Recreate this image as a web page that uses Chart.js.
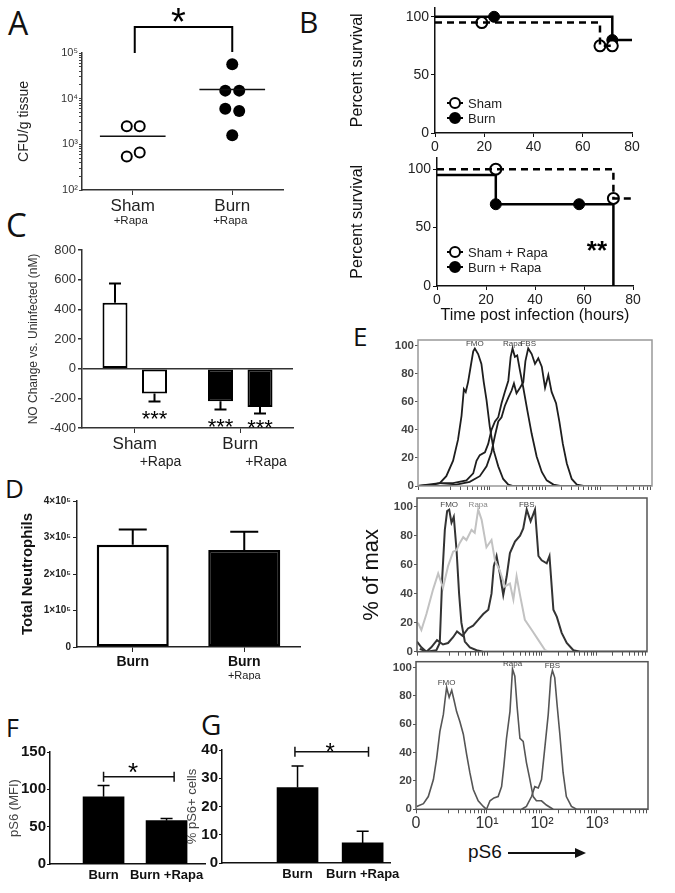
<!DOCTYPE html>
<html>
<head>
<meta charset="utf-8">
<title>Figure</title>
<script src="https://cdn.jsdelivr.net/npm/chart.js@4.4.1/dist/chart.umd.min.js"></script>
<style>
  body { margin: 0; background: #fff; }
  #fig { position: relative; width: 675px; height: 893px; overflow: hidden; background: #fff; font-family: 'Liberation Sans', Arial, sans-serif; color: #111; }
  .box { position: absolute; }
  .letter { position: absolute; font-family: 'Open Sans', sans-serif; line-height: 1; color: #111; }
  #ps6 { position: absolute; left: 468px; top: 841px; font-size: 19px; line-height: 22px; color: #111; white-space: nowrap; }
  #ps6 .arrow { display: inline-block; position: relative; width: 68px; height: 0; border-top: 2.5px solid #111; vertical-align: middle; margin-left: 6px; }
  #ps6 .arrow::after { content: ''; position: absolute; right: -10px; top: -6.25px; border-left: 11px solid #111; border-top: 5px solid transparent; border-bottom: 5px solid transparent; }
</style>
</head>
<body>
<div id="fig">
  <div class="letter" style="left:8px;top:7px;font-size:32px">A</div>
  <div class="letter" style="left:299px;top:7px;font-size:30px">B</div>
  <div class="letter" style="left:6px;top:208px;font-size:33px">C</div>
  <div class="letter" style="left:5px;top:475px;font-size:26px">D</div>
  <div class="letter" style="left:353px;top:323px;font-size:26px">E</div>
  <div class="letter" style="left:6px;top:715px;font-size:25px">F</div>
  <div class="letter" style="left:201px;top:710px;font-size:28px">G</div>
  <div id="ps6">pS6<span class="arrow"></span></div>
</div>
<script>
// ---- A: CFU per gram tissue (log scale) ----
const aGroups = ['Sham', 'Burn'];
const aGroupSub = ['+Rapa', '+Rapa'];
const aShamCFU = [2500, 2500, 540, 660];
const aShamJit = [-0.06, 0.07, -0.06, 0.07];
const aBurnCFU = [57000, 15000, 15000, 6000, 5400, 1580];
const aBurnJit = [0, -0.07, 0.07, -0.07, 0.07, 0];
const aShamMean = 1500;
const aBurnMean = 15800;

// ---- B: survival curves (hours, percent) ----
const bShamT = [0, 67, 72], bShamS = [95, 75, 75];
const bShamCensT = [19, 67, 72], bShamCensS = [95, 75, 75];
const bBurnT = [0, 72, 80], bBurnS = [100, 80, 80];
const bBurnCensT = [24, 72], bBurnCensS = [100, 80];
const bShamRapaT = [0, 72, 80], bShamRapaS = [100, 75, 75];
const bShamRapaCensT = [24, 72], bShamRapaCensS = [100, 75];
const bBurnRapaT = [0, 24, 72], bBurnRapaS = [95, 70, 0];
const bBurnRapaCensT = [24, 58], bBurnRapaCensS = [70, 70];

// ---- C: NO change vs uninfected (nM) ----
const cGroups = ['Sham', 'Burn'];
const cNoRapa = [445, -220];
const cNoRapaErr = [130, 55];
const cRapa = [-168, -258];
const cRapaErr = [54, 44];

// ---- D: total neutrophils ----
const dLabels = ['Burn', 'Burn'];
const dSub = ['', '+Rapa'];
const dNeut = [280000, 266000];
const dErr = [42000, 50000];

// ---- F / G: pS6 ----
const fLabels = ['Burn', 'Burn +Rapa'];
const fMFI = [90, 58];
const fErr = [15, 3];
const gLabels = ['Burn', 'Burn +Rapa'];
const gPct = [26.7, 7.1];
const gErr = [7.6, 4.1];

// ---- E: pS6 histograms, [channel, % of max] ----
const decadeCh = [0, 306, 543, 780];
const decadeLabels = ['0', '10¹', '10²', '10³'];
const h1FMO = [[0,0],[64,1],[93,2],[121,7],[150,18],[171,33],[186,50],[196,69],[204,67],[214,74],[226,86],[236,96],[243,98],[257,94],[271,87],[281,74],[293,61],[307,42],[324,25],[343,14],[364,5],[386,1],[407,0],[1000,0]];
const h1Rapa = [[0,0],[93,2],[150,2],[207,4],[236,9],[250,18],[264,22],[286,24],[300,30],[314,40],[329,46],[343,49],[357,59],[371,67],[386,75],[396,92],[404,98],[414,92],[424,93],[436,82],[450,70],[467,54],[486,37],[507,21],[529,10],[550,4],[579,1],[607,0],[1000,0]];
const h1FBS = [[0,0],[93,0],[164,1],[221,3],[264,7],[293,14],[314,24],[329,36],[343,46],[357,49],[371,57],[386,63],[400,68],[410,73],[421,66],[436,70],[450,74],[459,89],[471,98],[486,94],[500,87],[514,91],[529,85],[543,70],[557,79],[571,67],[590,59],[604,46],[619,30],[636,16],[657,5],[679,1],[707,0],[1000,0]];
const h2FMO = [[12,2],[41,0],[84,1],[99,6],[110,52],[121,84],[131,97],[140,98],[150,89],[160,93],[172,70],[183,40],[193,20],[208,7],[230,3],[259,1],[288,0],[1000,0]];
const h2Rapa = [[4,20],[19,15],[41,26],[70,43],[92,54],[113,44],[135,59],[157,69],[172,70],[186,75],[201,79],[215,77],[237,84],[251,82],[266,98],[281,91],[302,72],[324,77],[339,63],[360,56],[382,45],[404,47],[419,36],[433,52],[448,39],[469,22],[499,15],[528,8],[557,1],[571,0]];
const h2FBS = [[0,7],[19,3],[41,0],[62,3],[87,8],[113,5],[135,6],[157,10],[174,14],[198,11],[222,16],[244,18],[266,22],[288,26],[310,29],[324,40],[334,59],[346,66],[360,54],[375,39],[390,52],[404,68],[426,76],[448,80],[462,85],[477,98],[494,90],[513,98],[528,66],[542,63],[564,61],[576,66],[593,29],[608,24],[629,13],[651,6],[680,1],[709,0],[1000,0]];
const h3FMO = [[3,2],[32,4],[53,9],[75,21],[89,36],[103,55],[118,67],[125,77],[132,86],[143,79],[154,84],[164,77],[175,69],[189,62],[204,53],[218,39],[232,26],[247,14],[268,6],[290,2],[304,0]];
const h3Rapa = [[304,0],[319,6],[336,8],[354,9],[369,16],[379,31],[390,50],[405,69],[416,99],[426,94],[436,72],[448,50],[462,48],[476,33],[491,21],[505,9],[519,6],[541,6],[562,3],[591,0]];
const h3FBS = [[455,0],[476,2],[498,9],[512,16],[527,15],[541,21],[555,43],[570,67],[581,93],[588,98],[598,93],[608,74],[620,53],[634,26],[648,9],[670,2],[692,0],[1000,0]];

const FONT = "'Liberation Sans', Arial, sans-serif";
Chart.defaults.font.family = FONT;
Chart.defaults.color = '#222';
Chart.defaults.animation = false;
Chart.defaults.plugins.legend.display = false;
Chart.defaults.plugins.tooltip.enabled = false;

const fig = document.getElementById('fig');

function makeChart(left, top, w, h, config) {
  const div = document.createElement('div');
  div.className = 'box';
  div.style.cssText = `left:${left}px;top:${top}px;width:${w}px;height:${h}px`;
  const cv = document.createElement('canvas');
  div.appendChild(cv);
  fig.appendChild(div);
  config.options = Object.assign({ responsive: true, maintainAspectRatio: false }, config.options);
  return new Chart(cv, config);
}

// fixed axis sizes so the plot areas land where the figure has them
const fixW = w => s => { s.width = w; s.paddingTop = 0; s.paddingBottom = 0; };
const fixH = h => s => { s.height = h; s.paddingLeft = 0; s.paddingRight = 0; };

function pts(xs, ys) { return xs.map((x, i) => ({ x: x, y: ys[i] })); }
function pairs(arr) { return arr.map(p => ({ x: p[0], y: p[1] })); }

function star(ctx, text, x, cy, size, bold) {
  ctx.save();
  ctx.font = `${bold ? 'bold ' : ''}${size}px ${FONT}`;
  ctx.fillStyle = '#000';
  ctx.textAlign = 'center';
  ctx.textBaseline = 'alphabetic';
  ctx.fillText(text, x, cy + 0.57 * size);
  ctx.restore();
}

// error bars from dataset.errors, drawn away from zero
const errorBars = {
  id: 'errorBars',
  afterDatasetsDraw(chart) {
    const ctx = chart.ctx, ys = chart.scales.y;
    chart.data.datasets.forEach((ds, i) => {
      if (!ds.errors) return;
      chart.getDatasetMeta(i).data.forEach((bar, j) => {
        const raw = ds.data[j];
        const v = typeof raw === 'object' ? raw.y : raw;
        const e = ds.errors[j];
        const p0 = ys.getPixelForValue(v);
        const p1 = ys.getPixelForValue(v < 0 ? v - e : v + e);
        const cw = ds.capWidth || 12;
        ctx.save();
        ctx.strokeStyle = '#000';
        ctx.lineWidth = ds.errorWidth || 2;
        ctx.beginPath();
        ctx.moveTo(bar.x, p0);
        ctx.lineTo(bar.x, p1);
        ctx.moveTo(bar.x - cw / 2, p1);
        ctx.lineTo(bar.x + cw / 2, p1);
        ctx.stroke();
        ctx.restore();
      });
    });
  }
};
Chart.register(errorBars);

function subLabels(id, texts, size, dy, dx) {
  return {
    id: id,
    afterDraw(c) {
      const ctx = c.ctx, xs = c.scales.x;
      ctx.save();
      ctx.font = `${size}px ${FONT}`;
      ctx.fillStyle = '#222';
      ctx.textAlign = 'center';
      ctx.textBaseline = 'middle';
      texts.forEach((t, i) => { if (t) ctx.fillText(t, xs.getPixelForValue(i) + (dx || 0), c.chartArea.bottom + dy); });
      ctx.restore();
    }
  };
}

function survLegend(items, dx, dy) {
  return {
    id: 'survLegend',
    afterDraw(c) {
      const ctx = c.ctx;
      const x = c.chartArea.left + dx;
      items.forEach((it, k) => {
        const y = c.chartArea.bottom - dy + k * 15;
        ctx.save();
        ctx.strokeStyle = '#000';
        ctx.lineWidth = 2;
        ctx.beginPath(); ctx.moveTo(x - 8, y); ctx.lineTo(x + 8, y); ctx.stroke();
        ctx.beginPath(); ctx.arc(x, y, 5, 0, Math.PI * 2);
        ctx.fillStyle = it.filled ? '#000' : '#fff';
        ctx.fill(); ctx.stroke();
        ctx.font = `13px ${FONT}`;
        ctx.fillStyle = '#222';
        ctx.textBaseline = 'middle';
        ctx.fillText(it.text, x + 13, y + 1);
        ctx.restore();
      });
    }
  };
}

function sigLine(o) {
  return {
    id: 'sigLine',
    afterDraw(c) {
      const ctx = c.ctx, xs = c.scales.x, ys = c.scales.y;
      const x0 = xs.getPixelForValue(o.from), x1 = xs.getPixelForValue(o.to), y = ys.getPixelForValue(o.y);
      ctx.save();
      ctx.strokeStyle = '#111';
      ctx.lineWidth = 1.5;
      ctx.beginPath();
      ctx.moveTo(x0, y); ctx.lineTo(x1, y);
      ctx.moveTo(x0, y - 5); ctx.lineTo(x0, y + 5);
      ctx.moveTo(x1, y - 5); ctx.lineTo(x1, y + 5);
      ctx.stroke();
      ctx.restore();
      star(ctx, '*', xs.getPixelForValue(o.starAt), y - o.starGap, o.starSize, false);
    }
  };
}

function survScales(ymax, xh, yw, xTitle) {
  return {
    x: {
      type: 'linear', min: 0, max: 80, afterFit: fixH(xh),
      ticks: { stepSize: 20, font: { size: 14 }, color: '#222', padding: 2, maxRotation: 0 },
      grid: { drawOnChartArea: false, tickLength: 4, color: '#111' },
      border: { color: '#111', width: 1.5 },
      title: xTitle ? { display: true, text: xTitle, font: { size: 16 }, color: '#111', padding: { bottom: 5 } } : { display: false }
    },
    y: {
      min: 0, max: ymax, afterFit: fixW(yw),
      ticks: { stepSize: 50, includeBounds: false, font: { size: 14 }, color: '#222', padding: 2 },
      grid: { drawOnChartArea: false, tickLength: 4, color: '#111' },
      border: { color: '#111', width: 1.5 },
      title: { display: true, text: 'Percent survival', font: { size: 16 }, color: '#111', padding: { top: 8 } }
    }
  };
}

// ---------- A ----------
const aMeanHalf = 0.33;
makeChart(0, 0, 290, 230, {
  type: 'scatter',
  data: {
    datasets: [
      { type: 'line', data: pts([-aMeanHalf, aMeanHalf], [aShamMean, aShamMean]), borderColor: '#111', borderWidth: 1.5, pointRadius: 0 },
      { type: 'line', data: pts([1 - aMeanHalf, 1 + aMeanHalf], [aBurnMean, aBurnMean]), borderColor: '#111', borderWidth: 1.5, pointRadius: 0 },
      { data: aShamCFU.map((v, i) => ({ x: aShamJit[i], y: v })), pointRadius: 5, pointBorderWidth: 2, pointBackgroundColor: '#fff', pointBorderColor: '#000' },
      { data: aBurnCFU.map((v, i) => ({ x: 1 + aBurnJit[i], y: v })), pointRadius: 6, pointBorderWidth: 0, pointBackgroundColor: '#000', pointBorderColor: '#000' }
    ]
  },
  options: {
    layout: { padding: { top: 53, right: 6 } },
    scales: {
      x: {
        type: 'linear', min: -0.51, max: 1.51, afterFit: fixH(40),
        afterBuildTicks: s => { s.ticks = aGroups.map((g, i) => ({ value: i })); },
        ticks: { autoSkip: false, maxRotation: 0, font: { size: 17 }, color: '#222', padding: 1, callback: v => aGroups[v] || '' },
        grid: { drawOnChartArea: false, tickLength: 5, color: '#333' },
        border: { color: '#333', width: 1.5 }
      },
      y: {
        type: 'logarithmic', min: 100, max: 100000, afterFit: fixW(82),
        afterBuildTicks: s => {
          const t = [];
          for (let e = 2; e <= 5; e++) {
            for (let k = 1; k <= 9; k++) {
              const v = k * Math.pow(10, e);
              if (v <= 100000) t.push({ value: v });
            }
          }
          s.ticks = t;
        },
        ticks: {
          autoSkip: false, font: { size: 11 }, color: '#333', padding: 1,
          callback: v => {
            const e = Math.log10(v);
            const sup = { 2: '²', 3: '³', 4: '⁴', 5: '⁵' };
            return Math.abs(e - Math.round(e)) < 1e-9 ? '10' + sup[Math.round(e)] : '';
          }
        },
        grid: { drawOnChartArea: false, tickLength: 3, color: '#444' },
        border: { color: '#333', width: 1.5 },
        title: { display: true, text: 'CFU/g tissue', font: { size: 14 }, color: '#222', padding: { top: 16 } }
      }
    }
  },
  plugins: [
    subLabels('aSub', aGroupSub, 11.5, 31, -2),
    {
      id: 'aBracket',
      afterDraw(c) {
        const ctx = c.ctx, xs = c.scales.x, top = c.chartArea.top;
        const x0 = xs.getPixelForValue(0) + 2, x1 = xs.getPixelForValue(1);
        ctx.save();
        ctx.strokeStyle = '#000';
        ctx.lineWidth = 2;
        ctx.beginPath();
        ctx.moveTo(x0, top); ctx.lineTo(x0, top - 26); ctx.lineTo(x1, top - 26); ctx.lineTo(x1, top - 1);
        ctx.stroke();
        ctx.restore();
        star(ctx, '*', (x0 + x1) / 2 - 5, 13, 38, false);
      }
    }
  ]
});

// ---------- B top ----------
makeChart(340, 0, 304, 160, {
  type: 'line',
  data: {
    datasets: [
      { data: pts(bShamT, bShamS), stepped: true, borderColor: '#000', borderWidth: 2.5, borderDash: [7, 5], pointRadius: 0 },
      { data: pts(bBurnT, bBurnS), stepped: true, borderColor: '#000', borderWidth: 2.5, pointRadius: 0 },
      { data: pts(bShamCensT, bShamCensS), showLine: false, pointRadius: 5.5, pointBorderWidth: 2, pointBackgroundColor: '#fff', pointBorderColor: '#000' },
      { data: pts(bBurnCensT, bBurnCensS), showLine: false, pointRadius: 5.5, pointBorderWidth: 1, pointBackgroundColor: '#000', pointBorderColor: '#000' }
    ]
  },
  options: {
    layout: { padding: { top: 4.5, right: 12 } },
    scales: survScales(108, 27, 95, null)
  },
  plugins: [survLegend([{ text: 'Sham', filled: false }, { text: 'Burn', filled: true }], 20, 30)]
});

// ---------- B bottom ----------
makeChart(340, 150, 305, 180, {
  type: 'line',
  data: {
    datasets: [
      { data: pts(bShamRapaT, bShamRapaS), stepped: true, borderColor: '#000', borderWidth: 2.5, borderDash: [7, 5], pointRadius: 0 },
      { data: pts(bBurnRapaT, bBurnRapaS), stepped: true, borderColor: '#000', borderWidth: 2.5, pointRadius: 0 },
      { data: pts(bShamRapaCensT, bShamRapaCensS), showLine: false, pointRadius: 5.5, pointBorderWidth: 2, pointBackgroundColor: '#fff', pointBorderColor: '#000' },
      { data: pts(bBurnRapaCensT, bBurnRapaCensS), showLine: false, pointRadius: 5.5, pointBorderWidth: 1, pointBackgroundColor: '#000', pointBorderColor: '#000' }
    ]
  },
  options: {
    layout: { padding: { top: 5, right: 12 } },
    scales: survScales(110, 44, 97, 'Time post infection (hours)')
  },
  plugins: [
    survLegend([{ text: 'Sham + Rapa', filled: false }, { text: 'Burn + Rapa', filled: true }], 18, 34),
    { id: 'bStars', afterDraw(c) { star(c.ctx, '**', c.scales.x.getPixelForValue(65.3), c.scales.y.getPixelForValue(36), 26, true); } }
  ]
});

// ---------- C ----------
makeChart(0, 235, 300, 240, {
  type: 'bar',
  data: {
    labels: cGroups,
    datasets: [
      { data: cNoRapa, errors: cNoRapaErr, capWidth: 12, backgroundColor: ['#fff', '#000'], borderColor: '#000', borderWidth: 2, borderSkipped: false, categoryPercentage: 0.749, barPercentage: 0.633 },
      { data: cRapa, errors: cRapaErr, capWidth: 12, backgroundColor: ['#fff', '#000'], borderColor: '#000', borderWidth: 2, borderSkipped: false, categoryPercentage: 0.749, barPercentage: 0.633 }
    ]
  },
  options: {
    layout: { padding: { top: 15, right: 7 } },
    scales: {
      x: {
        afterFit: fixH(47),
        ticks: { font: { size: 17 }, color: '#222', padding: 1, maxRotation: 0 },
        grid: { drawOnChartArea: false, offset: false, tickLength: 5, color: '#333' },
        border: { color: '#333', width: 1.5 }
      },
      y: {
        min: -400, max: 800, afterFit: fixW(82),
        ticks: { stepSize: 200, font: { size: 13 }, color: '#333', padding: 2 },
        grid: { color: ctx => ctx.tick && ctx.tick.value === 0 ? '#333' : 'rgba(0,0,0,0)', lineWidth: 1.5, tickColor: '#333', tickLength: 4 },
        border: { color: '#333', width: 1.5 },
        title: { display: true, text: 'NO Change vs. Uninfected (nM)', font: { size: 12 }, color: '#333', padding: { top: 26 } }
      }
    }
  },
  plugins: [{
    id: 'cExtras',
    afterDraw(c) {
      const ctx = c.ctx, ys = c.scales.y, bottom = c.chartArea.bottom;
      c.data.datasets.forEach((ds, i) => {
        c.getDatasetMeta(i).data.forEach((bar, j) => {
          const v = ds.data[j];
          if (v < 0) {
            const end = ys.getPixelForValue(v - ds.errors[j]);
            star(ctx, '***', bar.x, Math.min(end + 12, bottom - 6), 22, false);
          }
          if (i === 1) {
            ctx.save();
            ctx.font = `14px ${FONT}`;
            ctx.fillStyle = '#222';
            ctx.textAlign = 'center';
            ctx.textBaseline = 'middle';
            ctx.fillText('+Rapa', bar.x + 6, bottom + 34);
            ctx.restore();
          }
        });
      });
    }
  }]
});

// ---------- D ----------
makeChart(0, 480, 305, 200, {
  type: 'bar',
  data: {
    labels: dLabels,
    datasets: [
      { data: dNeut, errors: dErr, capWidth: 28, backgroundColor: ['#fff', '#000'], borderColor: '#000', borderWidth: 2.5, borderSkipped: false, categoryPercentage: 1, barPercentage: 0.646 }
    ]
  },
  options: {
    layout: { padding: { top: 21, right: 5 } },
    scales: {
      x: {
        afterFit: fixH(33),
        ticks: { font: { size: 14, weight: 'bold' }, color: '#111', padding: 2, maxRotation: 0 },
        grid: { drawOnChartArea: false, offset: false, tickLength: 5, color: '#222' },
        border: { color: '#222', width: 1.5 }
      },
      y: {
        min: 0, max: 400000, afterFit: fixW(77),
        ticks: { stepSize: 100000, font: { size: 10, weight: 'bold' }, color: '#222', padding: 2, callback: v => v === 0 ? '0' : (v / 100000) + '×10⁵' },
        grid: { drawOnChartArea: false, tickLength: 4, color: '#222' },
        border: { color: '#222', width: 1.5 },
        title: { display: true, text: 'Total Neutrophils', font: { size: 15, weight: 'bold' }, color: '#111', padding: { top: 18.5 } }
      }
    }
  },
  plugins: [subLabels('dSub', dSub, 11, 29, 0)]
});

// ---------- F and G ----------
function pBar(left, top, w, h, pad, yw, xh, labels, vals, errs, xmin, xmax, ymax, step, ytitle, titlePad, sig) {
  return makeChart(left, top, w, h, {
    type: 'bar',
    data: {
      datasets: [{ data: vals.map((v, i) => ({ x: i, y: v })), errors: errs, capWidth: 12, errorWidth: 1.5, backgroundColor: '#000', borderWidth: 0, barThickness: 41 }]
    },
    options: {
      layout: { padding: pad },
      scales: {
        x: {
          type: 'linear', min: xmin, max: xmax, offset: false, afterFit: fixH(xh),
          afterBuildTicks: s => { s.ticks = labels.map((l, i) => ({ value: i })); },
          ticks: { autoSkip: false, maxRotation: 0, font: { size: 13, weight: 'bold' }, color: '#111', padding: 4, callback: v => labels[v] || '' },
          grid: { display: false, drawTicks: false, tickLength: 0, offset: false },
          border: { color: '#111', width: 1.5 }
        },
        y: {
          min: 0, max: ymax, afterFit: fixW(yw),
          ticks: { stepSize: step, font: { size: 15, weight: 'bold' }, color: '#111', padding: 1 },
          grid: { drawOnChartArea: false, tickLength: 3, color: '#111' },
          border: { color: '#111', width: 1.5 },
          title: { display: true, text: ytitle, font: { size: 13 }, color: '#444', padding: { top: titlePad } }
        }
      }
    },
    plugins: [sigLine(sig)]
  });
}

pBar(0, 740, 210, 153, { top: 12, right: 5 }, 50, 29, fLabels, fMFI, fErr, -0.85, 1.61, 150, 50, 'pS6 (MFI)', 7,
  { from: 0, to: 1.12, y: 117, starAt: 0.47, starGap: 10, starSize: 26 });
pBar(180, 735, 225, 158, { top: 15, right: 15 }, 42, 30, gLabels, gPct, gErr, -1.16, 1.42, 40, 10, '% pS6+ cells', 5,
  { from: -0.04, to: 1.09, y: 39.4, starAt: 0.5, starGap: 5, starSize: 24 });

// ---------- E: histograms ----------
function histTicks() {
  const t = decadeCh.map(v => ({ value: v }));
  const bases = [decadeCh[1] - 237, decadeCh[1], decadeCh[2], decadeCh[3]];
  bases.forEach(b => {
    for (let k = 2; k <= 9; k++) {
      const v = b + 237 * Math.log10(k);
      if (v > 0 && v < 1000) t.push({ value: v });
    }
  });
  return t.sort((a, b) => a.value - b.value);
}

function makeHist(left, top, w, h, pad, yw, xh, ymax, curves, o) {
  return makeChart(left, top, w, h, {
    type: 'line',
    data: {
      datasets: curves.map(cv => ({
        label: cv.label, data: pairs(cv.data), borderColor: cv.color, borderWidth: cv.width,
        pointRadius: 0, tension: 0, labelColor: cv.labelColor
      }))
    },
    options: {
      layout: { padding: pad },
      scales: {
        x: {
          type: 'linear', min: 0, max: 1000, afterFit: fixH(xh),
          afterBuildTicks: s => { s.ticks = histTicks(); },
          ticks: {
            autoSkip: false, maxRotation: 0, font: { size: 16 }, color: '#333', padding: 1,
            callback: v => { const k = decadeCh.indexOf(v); return o.xLabels && k >= 0 ? decadeLabels[k] : ''; }
          },
          grid: { drawOnChartArea: false, tickLength: 4, color: '#555' },
          border: { display: false }
        },
        y: {
          min: 0, max: ymax, afterFit: fixW(yw),
          ticks: { stepSize: 20, includeBounds: false, font: { size: 11.5, weight: 'bold' }, color: '#444', padding: 1 },
          grid: { drawOnChartArea: false, tickLength: 3, color: '#555' },
          border: { display: false },
          title: o.yTitle ? { display: true, text: o.yTitle, font: { size: 22 }, color: '#111', padding: { top: 3.8 } } : { display: false }
        }
      }
    },
    plugins: [{
      id: 'histFrame',
      afterDraw(c) {
        const ctx = c.ctx, a = c.chartArea, xs = c.scales.x, ys = c.scales.y;
        ctx.save();
        ctx.strokeStyle = o.frame;
        ctx.lineWidth = 1.5;
        ctx.strokeRect(a.left, a.top, a.right - a.left, a.bottom - a.top);
        ctx.font = `8px ${FONT}`;
        ctx.textAlign = 'center';
        ctx.textBaseline = 'middle';
        c.data.datasets.forEach(ds => {
          let best = ds.data[0];
          ds.data.forEach(p => { if (p.y > best.y) best = p; });
          ctx.fillStyle = ds.labelColor || '#444';
          ctx.fillText(ds.label, xs.getPixelForValue(best.x), ys.getPixelForValue(best.y) - 5);
        });
        ctx.restore();
      }
    }]
  });
}

makeHist(355, 330, 305, 165, { top: 10, right: 8 }, 63, 9, 104, [
  { label: 'FMO', data: h1FMO, color: '#1e1e1e', width: 1.8 },
  { label: 'Rapa', data: h1Rapa, color: '#1e1e1e', width: 1.8 },
  { label: 'FBS', data: h1FBS, color: '#1e1e1e', width: 1.8 }
], { frame: '#999' });

makeHist(355, 490, 305, 168, { top: 8, right: 13 }, 62, 6.3, 106, [
  { label: 'Rapa', data: h2Rapa, color: '#c2c2c2', width: 2, labelColor: '#888' },
  { label: 'FMO', data: h2FMO, color: '#333', width: 2 },
  { label: 'FBS', data: h2FBS, color: '#333', width: 2 }
], { frame: '#555', yTitle: '% of max' });

makeHist(355, 658, 305, 210, { top: 3.7, right: 12 }, 61, 58.7, 104.2, [
  { label: 'FMO', data: h3FMO, color: '#555', width: 1.6 },
  { label: 'Rapa', data: h3Rapa, color: '#555', width: 1.6 },
  { label: 'FBS', data: h3FBS, color: '#555', width: 1.6 }
], { frame: '#555', xLabels: true });
</script>
</body>
</html>
